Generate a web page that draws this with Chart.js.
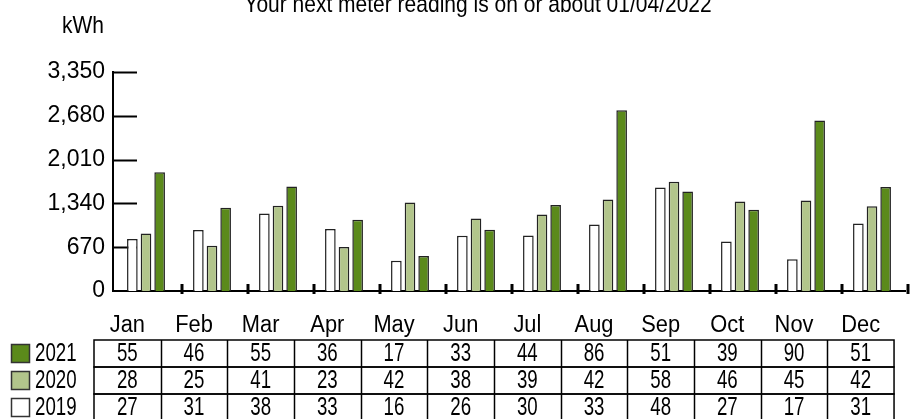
<!DOCTYPE html>
<html>
<head>
<meta charset="utf-8">
<script src="https://cdn.jsdelivr.net/npm/chart.js@4"></script>
<style>
  html, body { margin: 0; padding: 0; background: #fff; }
  #wrap { width: 910px; height: 419px; position: relative; }
</style>
</head>
<body>
<div id="wrap"><canvas id="usageChart" width="910" height="419"></canvas></div>
<script>
// ----- Chart data -----
const months = ["Jan","Feb","Mar","Apr","May","Jun","Jul","Aug","Sep","Oct","Nov","Dec"];
const yTicks = [0, 670, 1340, 2010, 2680, 3350];

// kWh per month
const kwh2019 = [794, 932, 1187, 947, 463, 845, 850, 1018, 1584, 759, 484, 1034];
const kwh2020 = [881, 692, 1303, 672, 1355, 1110, 1171, 1400, 1670, 1370, 1385, 1298];
const kwh2021 = [1818, 1273, 1599, 1089, 535, 937, 1314, 2765, 1523, 1242, 2607, 1589];

// values in the table under the chart
const table2021 = [55, 46, 55, 36, 17, 33, 44, 86, 51, 39, 90, 51];
const table2020 = [28, 25, 41, 23, 42, 38, 39, 42, 58, 46, 45, 42];
const table2019 = [27, 31, 38, 33, 16, 26, 30, 33, 48, 27, 17, 31];

const titleText = "Your next meter reading is on or about 01/04/2022";
const unitText = "kWh";

const colors = { y2019: "#ffffff", y2020: "#b2c58b", y2021: "#5b8a1b" };
const FONT = "'Liberation Sans', Arial, sans-serif";

// draw text stretched (the original font is narrower and taller)
function stretchText(ctx, text, x, y, sx, sy) {
  ctx.save();
  ctx.translate(x, y);
  ctx.scale(sx, sy);
  ctx.fillText(text, 0, 0);
  ctx.restore();
}

// ----- Extra drawing: title, inward y ticks, x marks, table + legend -----
const extrasPlugin = {
  id: "extras",
  beforeDatasetsDraw(chart) {
    const ctx = chart.ctx;
    const y = chart.scales.y;
    const area = chart.chartArea;
    ctx.save();
    // short inward ticks on the y axis (bars sit on top of them)
    ctx.strokeStyle = "#000";
    ctx.lineWidth = 2;
    yTicks.forEach(v => {
      if (v === 0) return;
      const py = Math.round(y.getPixelForValue(v)) + 0.5;
      ctx.beginPath();
      ctx.moveTo(area.left, py);
      ctx.lineTo(area.left + 24, py);
      ctx.stroke();
    });
    ctx.restore();
  },
  afterDraw(chart) {
    const ctx = chart.ctx;
    const x = chart.scales.x;
    const area = chart.chartArea;
    ctx.save();

    // title (partly cut off at the top) and unit
    ctx.fillStyle = "#000";
    ctx.font = "21px " + FONT;
    ctx.textAlign = "center";
    ctx.textBaseline = "alphabetic";
    stretchText(ctx, titleText, 478, 12, 1.0, 1.1);
    ctx.textAlign = "left";
    stretchText(ctx, unitText, 62, 33, 1.0, 1.1);

    // small marks between categories on the x axis
    ctx.strokeStyle = "#000";
    const step = x.getPixelForValue(1) - x.getPixelForValue(0);
    for (let i = 1; i <= months.length; i++) {
      const px = Math.round(x.getPixelForValue(i - 1) + step / 2 + 3);
      ctx.lineWidth = 3;
      ctx.beginPath();
      ctx.moveTo(px, area.bottom - 7);
      ctx.lineTo(px, area.bottom + 3);
      ctx.stroke();
    }

    // table
    const tLeft = 94, colW = 66.67, rowH = 27, tTop = 340;
    const rows = [
      { label: "2021", fill: colors.y2021, vals: table2021 },
      { label: "2020", fill: colors.y2020, vals: table2020 },
      { label: "2019", fill: colors.y2019, vals: table2019 }
    ];
    ctx.textAlign = "center";
    ctx.textBaseline = "middle";
    ctx.font = "23px " + FONT;
    months.forEach((m, i) => {
      stretchText(ctx, m, tLeft + colW * i + colW / 2, 325, 0.95, 1.08);
    });

    ctx.font = "22px " + FONT;
    ctx.lineWidth = 1.5;
    rows.forEach((r, ri) => {
      const top = tTop + rowH * ri;
      ctx.strokeStyle = "#000";
      ctx.strokeRect(tLeft, top, colW * months.length, rowH);
      for (let i = 1; i < months.length; i++) {
        const px = Math.round(tLeft + colW * i) + 0.5;
        ctx.beginPath();
        ctx.moveTo(px, top);
        ctx.lineTo(px, top + rowH);
        ctx.stroke();
      }
      ctx.textAlign = "center";
      r.vals.forEach((v, i) => {
        stretchText(ctx, String(v), tLeft + colW * i + colW / 2, top + rowH / 2 + 1, 0.85, 1.15);
      });
      // legend swatch + label
      ctx.fillStyle = r.fill;
      ctx.fillRect(11, top + 4, 19, 19);
      ctx.strokeStyle = "#333";
      ctx.strokeRect(11.5, top + 4.5, 18, 18);
      ctx.fillStyle = "#000";
      ctx.textAlign = "left";
      stretchText(ctx, r.label, 35, top + rowH / 2 + 1, 0.85, 1.15);
    });

    ctx.restore();
  }
};

function makeDataset(label, data, color) {
  return {
    label: label,
    data: data,
    backgroundColor: color,
    borderColor: "#222222",
    borderWidth: 1.5,
    borderSkipped: "bottom",
    categoryPercentage: 0.62,
    barPercentage: 0.78
  };
}

const ctx = document.getElementById("usageChart").getContext("2d");
new Chart(ctx, {
  type: "bar",
  data: {
    labels: months,
    datasets: [
      makeDataset("2019", kwh2019, colors.y2019),
      makeDataset("2020", kwh2020, colors.y2020),
      makeDataset("2021", kwh2021, colors.y2021)
    ]
  },
  options: {
    responsive: false,
    animation: false,
    layout: { padding: { top: 72, right: 5, bottom: 128, left: 0 } },
    plugins: {
      legend: { display: false },
      tooltip: { enabled: false }
    },
    scales: {
      x: {
        offset: true,
        grid: { display: false, drawTicks: false },
        ticks: { display: false },
        border: { display: true, color: "#000", width: 2 },
        afterFit(scale) { scale.height = 0; }
      },
      y: {
        min: 0,
        max: 3350,
        afterBuildTicks(scale) {
          scale.ticks = yTicks.map(v => ({ value: v }));
        },
        afterFit(scale) { scale.width = 113; },
        grid: { display: false, drawTicks: false },
        border: { display: true, color: "#000", width: 2 },
        ticks: {
          color: "#000",
          padding: 8,
          font: { family: FONT, size: 23 },
          callback: v => v.toLocaleString("en-US")
        }
      }
    }
  },
  plugins: [extrasPlugin]
});
</script>
</body>
</html>
